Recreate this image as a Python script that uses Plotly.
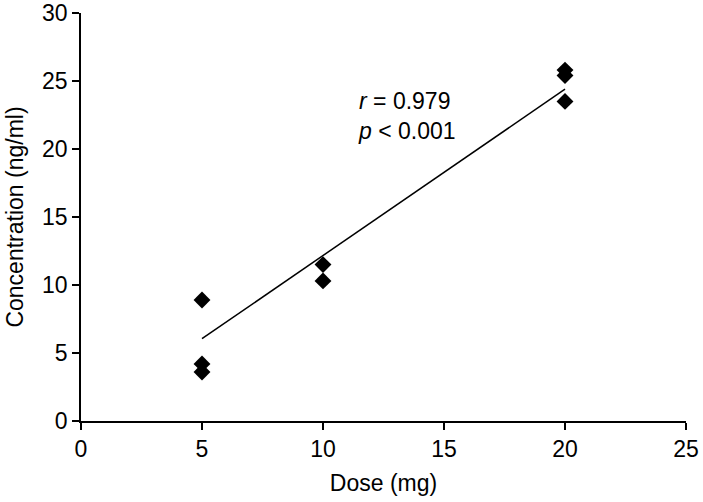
import plotly.graph_objects as go

dose = [5, 5, 5, 10, 10, 20, 20, 20]
conc = [8.9, 4.2, 3.6, 11.5, 10.3, 25.8, 25.4, 23.5]
fit_x = [5, 20]
fit_y = [6.05, 24.4]
x_ticks = [0, 5, 10, 15, 20, 25]
y_ticks = [0, 5, 10, 15, 20, 25, 30]

font = "Liberation Sans, Arial, sans-serif"
fs = 23

fig = go.Figure()
fig.add_trace(go.Scatter(x=fit_x, y=fit_y, mode="lines",
                         line=dict(color="black", width=1.5), showlegend=False))
fig.add_trace(go.Scatter(x=dose, y=conc, mode="markers",
                         marker=dict(symbol="diamond", size=13, color="black"),
                         showlegend=False))

fig.add_annotation(x=11.35, y=22.45, xref="x", yref="y",
                   text="<i>r</i> = 0.979<br><i>p</i> &lt; 0.001",
                   showarrow=False, xanchor="left", yanchor="middle", align="left",
                   font=dict(size=fs, color="black", family=font))

axis_common = dict(showgrid=False, zeroline=False, showline=True, linecolor="black",
                   linewidth=1.5, ticks="outside", ticklen=7, tickwidth=1.5,
                   tickcolor="black", tickfont=dict(size=fs, color="black", family=font),
                   automargin=False, ticklabeloverflow="allow")

fig.update_xaxes(range=[0, 25], tickvals=x_ticks,
                 title=dict(text="Dose (mg)", font=dict(size=fs, color="black", family=font), standoff=14),
                 **axis_common)
fig.update_yaxes(range=[0, 30], tickvals=y_ticks,
                 title=dict(text="Concentration (ng/ml)", font=dict(size=fs, color="black", family=font), standoff=12),
                 **axis_common)

fig.update_layout(width=703, height=502, plot_bgcolor="white", paper_bgcolor="white",
                  margin=dict(l=81, r=17, t=13, b=81), font=dict(family=font))

fig.write_html("out.html", config={"displayModeBar": False},
               post_script="document.body.style.margin='0';")
